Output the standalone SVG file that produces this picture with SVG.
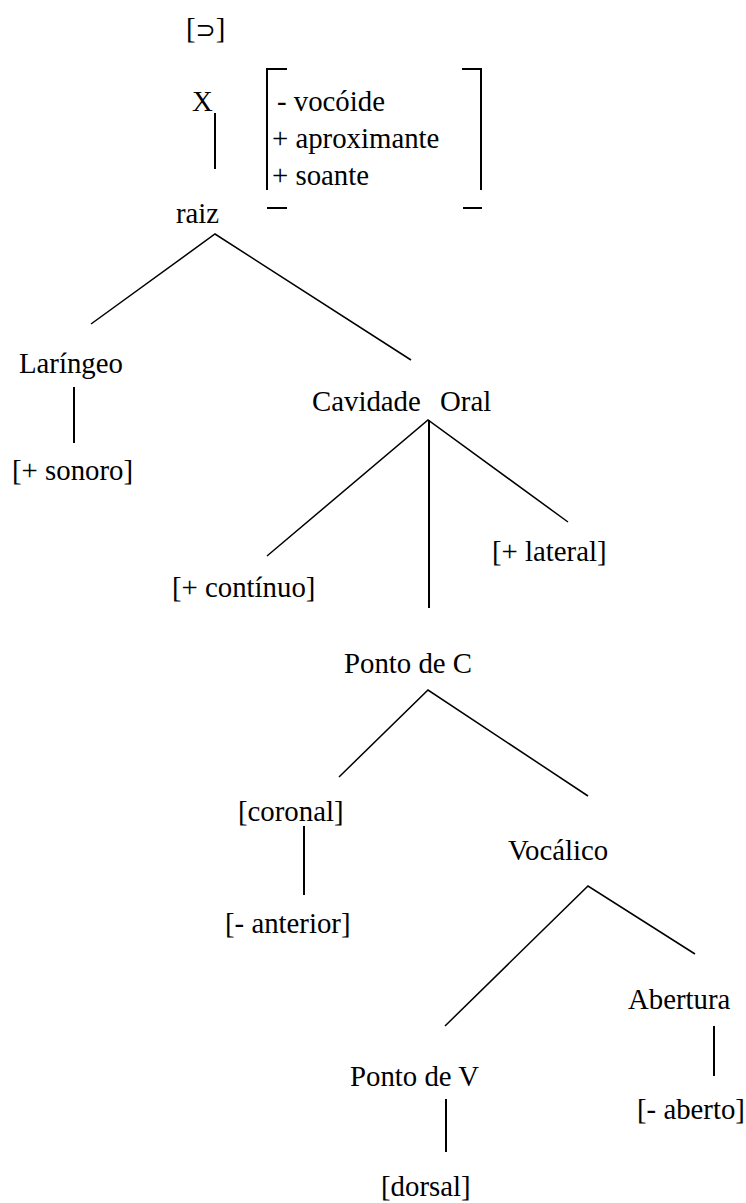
<svg xmlns="http://www.w3.org/2000/svg" width="746" height="1203" viewBox="0 0 746 1203">
<style>
text{font-family:"Liberation Serif","Times New Roman",serif;font-size:28.8px;fill:#000;white-space:pre}
.c{stroke:#000;stroke-width:1.5;fill:none}
.v{stroke:#000;stroke-width:2;fill:none}
</style>
<rect width="746" height="1203" fill="#fff"/>
<g id="symbol"><text x="186" y="38">[<tspan font-family="DejaVu Sans, sans-serif" font-size="24">⊃</tspan>]</text></g>
<g id="node-x"><text x="192" y="111">X</text></g>
<g id="features">
<path class="v" d="M267 68V190M267 69H287M267 208H287M481 68V190M481 69H462M463 208H482"/>
<text x="277" y="111">- vocóide</text>
<text x="272" y="148">+ aproximante</text>
<text x="272" y="185">+ soante</text>
</g>
<g id="node-raiz"><text x="176" y="223">raiz</text></g>
<g id="node-laringeo"><text x="19" y="373">Laríngeo</text></g>
<g id="node-sonoro"><text x="12" y="480">[+ sonoro]</text></g>
<g id="node-cavidade"><text x="312" y="411">Cavidade<tspan x="440">Oral</tspan></text></g>
<g id="node-lateral"><text x="492" y="561">[+ lateral]</text></g>
<g id="node-continuo"><text x="172" y="597">[+ contínuo]</text></g>
<g id="node-pontoc"><text x="344" y="673">Ponto de C</text></g>
<g id="node-coronal"><text x="238" y="821">[coronal]</text></g>
<g id="node-anterior"><text x="225" y="933">[- anterior]</text></g>
<g id="node-vocalico"><text x="508" y="860">Vocálico</text></g>
<g id="node-abertura"><text x="628" y="1009">Abertura</text></g>
<g id="node-aberto"><text x="637" y="1119">[- aberto]</text></g>
<g id="node-pontov"><text x="350" y="1086">Ponto de V</text></g>
<g id="node-dorsal"><text x="381" y="1196">[dorsal]</text></g>
<g id="connectors">
<path class="v" d="M215 113V169"/>
<path class="c" d="M91 324L215 234L411 360"/>
<path class="v" d="M74 387V443"/>
<path class="c" d="M267 556L428 420L568 522"/>
<path class="v" d="M429 420V608"/>
<path class="c" d="M339 777L428 690L588 796"/>
<path class="v" d="M304 826V895"/>
<path class="c" d="M445 1026L588 886L695 954"/>
<path class="v" d="M714 1026V1076"/>
<path class="v" d="M446 1099V1152"/>
</g>
</svg>
